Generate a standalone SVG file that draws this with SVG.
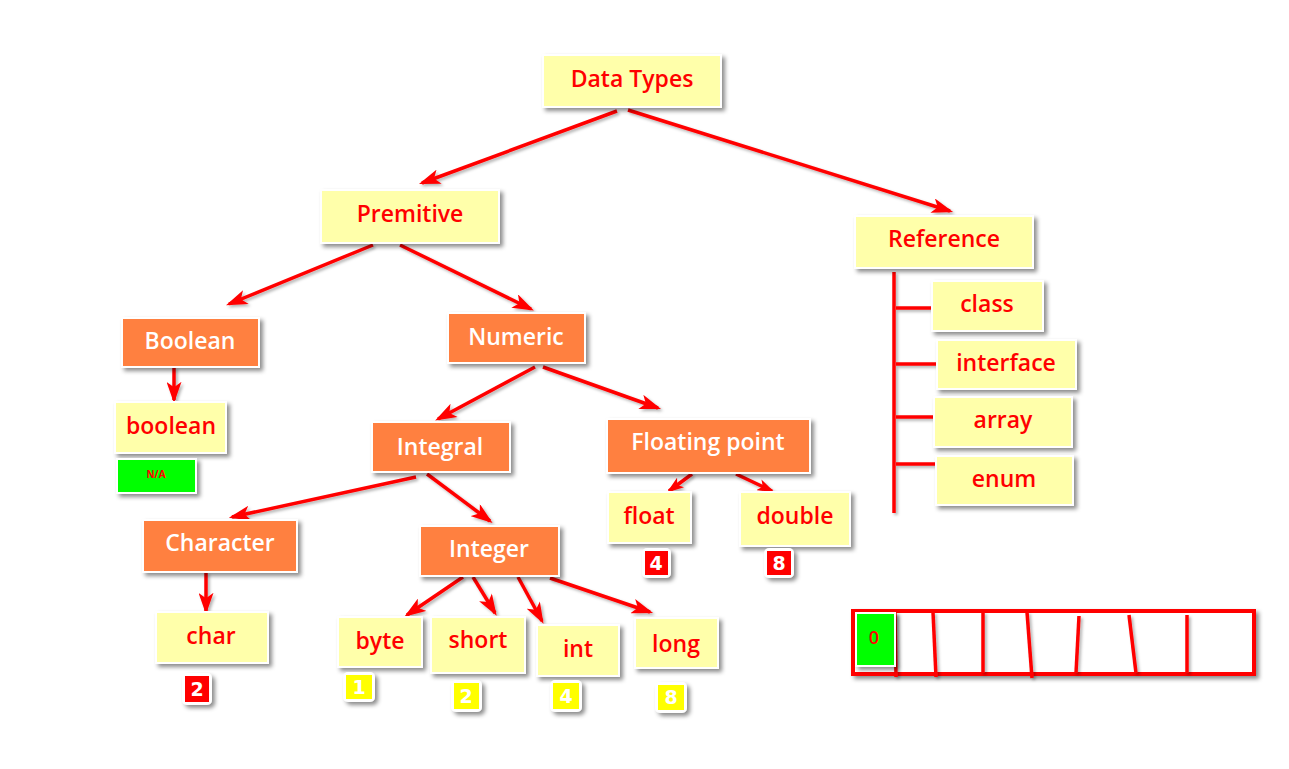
<svg xmlns="http://www.w3.org/2000/svg" width="1289" height="769" viewBox="0 0 1289 769">
<defs>
<filter id="sh" x="-20%" y="-20%" width="150%" height="160%">
<feDropShadow dx="3" dy="3" stdDeviation="2" flood-color="#000" flood-opacity="0.45"/>
</filter>
<filter id="lsh" x="-10%" y="-10%" width="130%" height="130%">
<feDropShadow dx="2" dy="2" stdDeviation="1.5" flood-color="#000" flood-opacity="0.3"/>
</filter>
<marker id="ah" viewBox="0 0 20 14" refX="17" refY="7" markerWidth="22" markerHeight="15" markerUnits="userSpaceOnUse" orient="auto">
<path d="M0,0 L20,7 L0,14 L5,7 z" fill="#FF0000"/>
</marker>
<marker id="ahs" viewBox="0 0 20 14" refX="17" refY="7" markerWidth="17" markerHeight="12" markerUnits="userSpaceOnUse" orient="auto">
<path d="M0,0 L20,7 L0,14 L5,7 z" fill="#FF0000"/>
</marker>
</defs>
<style>
.y{fill:#FFFFAA;stroke:#FFFFFF;stroke-width:2;filter:url(#sh)}
.o{fill:#FF8040;stroke:#FFFFFF;stroke-width:2;filter:url(#sh)}
.g{fill:#00FF00;stroke:#FFFFFF;stroke-width:2;filter:url(#sh)}
.t{font-family:"Open Sans","DejaVu Sans",sans-serif;font-size:23px;font-weight:600;fill:#FF0000;text-anchor:middle}
.w{font-family:"Open Sans","DejaVu Sans",sans-serif;font-size:23px;font-weight:600;fill:#FFFFFF;text-anchor:middle}
.c line{stroke:#FF0000;stroke-width:3.5;marker-end:url(#ah)}
.c line.s{marker-end:url(#ahs)}
.r line{stroke:#FF0000;stroke-width:3.5}
.bo{fill:#FFFFFF;filter:url(#sh)}
.bn{font-family:"DejaVu Sans","Liberation Sans",sans-serif;font-size:19px;font-weight:bold;fill:#FFFFFF;text-anchor:middle}
.arr line{stroke:#FF0000;stroke-width:3.5}
</style>
<rect width="1289" height="769" fill="#FFFFFF"/>

<g id="connectors" class="c" filter="url(#lsh)">
<line x1="617" y1="111" x2="422" y2="183"/>
<line x1="628" y1="110" x2="950" y2="211"/>
<line x1="373" y1="245" x2="229" y2="304"/>
<line x1="400" y1="245" x2="531" y2="309"/>
<line x1="174" y1="367" x2="174" y2="400"/>
<line x1="535" y1="367" x2="438" y2="419"/>
<line x1="543" y1="367" x2="658" y2="408"/>
<line x1="416" y1="477" x2="232" y2="517"/>
<line x1="427" y1="474" x2="490" y2="521"/>
<line x1="206" y1="572" x2="206" y2="611"/>
<line x1="463" y1="577" x2="407" y2="615"/>
<line x1="473" y1="577" x2="495" y2="613"/>
<line x1="518" y1="577" x2="542" y2="621"/>
<line x1="550" y1="578" x2="650" y2="612"/>
<line class="s" x1="692" y1="474" x2="669" y2="491"/>
<line class="s" x1="736" y1="474" x2="772" y2="491"/>
</g>

<g id="reference-lines" class="r" filter="url(#lsh)">
<line x1="894" y1="272" x2="894" y2="513"/>
<line x1="896" y1="308" x2="932" y2="308"/>
<line x1="896" y1="364" x2="937" y2="364"/>
<line x1="896" y1="417" x2="934" y2="417"/>
<line x1="896" y1="464" x2="936" y2="464"/>
</g>

<g id="data-types"><rect class="y" x="543" y="55" width="178" height="52"/><text class="t" x="632" y="87">Data Types</text></g>
<g id="premitive"><rect class="y" x="321" y="190" width="178" height="53"/><text class="t" x="410" y="222">Premitive</text></g>
<g id="reference"><rect class="y" x="855" y="216" width="178" height="52"/><text class="t" x="944" y="247">Reference</text></g>
<g id="class"><rect class="y" x="932" y="281" width="111" height="50"/><text class="t" x="987" y="312">class</text></g>
<g id="interface"><rect class="y" x="937" y="340" width="139" height="49"/><text class="t" x="1006" y="371">interface</text></g>
<g id="array"><rect class="y" x="934" y="397" width="138" height="50"/><text class="t" x="1003" y="428">array</text></g>
<g id="enum"><rect class="y" x="936" y="456" width="137" height="49"/><text class="t" x="1004" y="487">enum</text></g>

<g id="boolean-category"><rect class="o" x="122" y="318" width="137" height="49"/><text class="w" x="190" y="349">Boolean</text></g>
<g id="numeric"><rect class="o" x="448" y="313" width="137" height="50"/><text class="w" x="516" y="345">Numeric</text></g>
<g id="boolean"><rect class="y" x="115" y="402" width="111" height="51"/><text class="t" x="171" y="434">boolean</text></g>
<g id="na"><rect class="g" x="117" y="459" width="79" height="34"/><text class="t" x="156" y="478" style="font-size:10px;font-weight:bold">N/A</text></g>
<g id="integral"><rect class="o" x="372" y="422" width="138" height="50"/><text class="w" x="440" y="455">Integral</text></g>
<g id="floating-point"><rect class="o" x="607" y="419" width="203" height="54"/><text class="w" x="708" y="450">Floating point</text></g>
<g id="character"><rect class="o" x="143" y="520" width="154" height="52"/><text class="w" x="220" y="551">Character</text></g>
<g id="char"><rect class="y" x="156" y="612" width="112" height="51"/><text class="t" x="211" y="644">char</text></g>
<g id="integer"><rect class="o" x="420" y="526" width="139" height="50"/><text class="w" x="489" y="557">Integer</text></g>
<g id="byte"><rect class="y" x="338" y="617" width="84" height="50"/><text class="t" x="380" y="649">byte</text></g>
<g id="short"><rect class="y" x="431" y="617" width="94" height="56"/><text class="t" x="478" y="648">short</text></g>
<g id="int"><rect class="y" x="537" y="625" width="82" height="51"/><text class="t" x="578" y="657">int</text></g>
<g id="long"><rect class="y" x="635" y="618" width="83" height="50"/><text class="t" x="676" y="652">long</text></g>
<g id="float"><rect class="y" x="608" y="492" width="83" height="51"/><text class="t" x="649" y="524">float</text></g>
<g id="double"><rect class="y" x="740" y="492" width="110" height="54"/><text class="t" x="795" y="524">double</text></g>

<g id="badge-char"><rect class="bo" x="182" y="673" width="30" height="32" rx="5"/><rect x="185" y="676" width="24" height="26" fill="#FF0000"/><text class="bn" x="197" y="696">2</text></g>
<g id="badge-byte"><rect class="bo" x="343" y="672" width="32" height="30" rx="5"/><rect x="346" y="675" width="26" height="24" fill="#FFFF00"/><text class="bn" x="359" y="694">1</text></g>
<g id="badge-short"><rect class="bo" x="451" y="680" width="31" height="32" rx="5"/><rect x="454" y="683" width="25" height="26" fill="#FFFF00"/><text class="bn" x="466" y="703">2</text></g>
<g id="badge-int"><rect class="bo" x="550" y="680" width="32" height="32" rx="5"/><rect x="553" y="683" width="26" height="26" fill="#FFFF00"/><text class="bn" x="566" y="703">4</text></g>
<g id="badge-long"><rect class="bo" x="655" y="682" width="32" height="31" rx="5"/><rect x="658" y="685" width="26" height="25" fill="#FFFF00"/><text class="bn" x="671" y="704">8</text></g>
<g id="badge-float"><rect class="bo" x="642" y="548" width="29" height="30" rx="5"/><rect x="645" y="551" width="23" height="24" fill="#FF0000"/><text class="bn" x="656" y="570">4</text></g>
<g id="badge-double"><rect class="bo" x="764" y="548" width="30" height="30" rx="5"/><rect x="767" y="551" width="24" height="24" fill="#FF0000"/><text class="bn" x="779" y="570">8</text></g>

<g id="array-diagram" class="arr">
<rect x="853" y="611" width="401" height="63" fill="#FFFFFF" stroke="#FF0000" stroke-width="4" filter="url(#sh)"/>
<g filter="url(#lsh)">
<line x1="895" y1="613" x2="896" y2="677"/>
<line x1="933" y1="612" x2="936" y2="677"/>
<line x1="983" y1="612" x2="983" y2="673"/>
<line x1="1027" y1="612" x2="1032" y2="678"/>
<line x1="1079" y1="616" x2="1076" y2="673"/>
<line x1="1129" y1="615" x2="1136" y2="673"/>
<line x1="1187" y1="615" x2="1187" y2="673"/>
</g>
<rect class="g" x="856" y="613" width="39" height="53"/>
<text class="t" x="874" y="644" style="font-size:18px">0</text>
</g>
</svg>
